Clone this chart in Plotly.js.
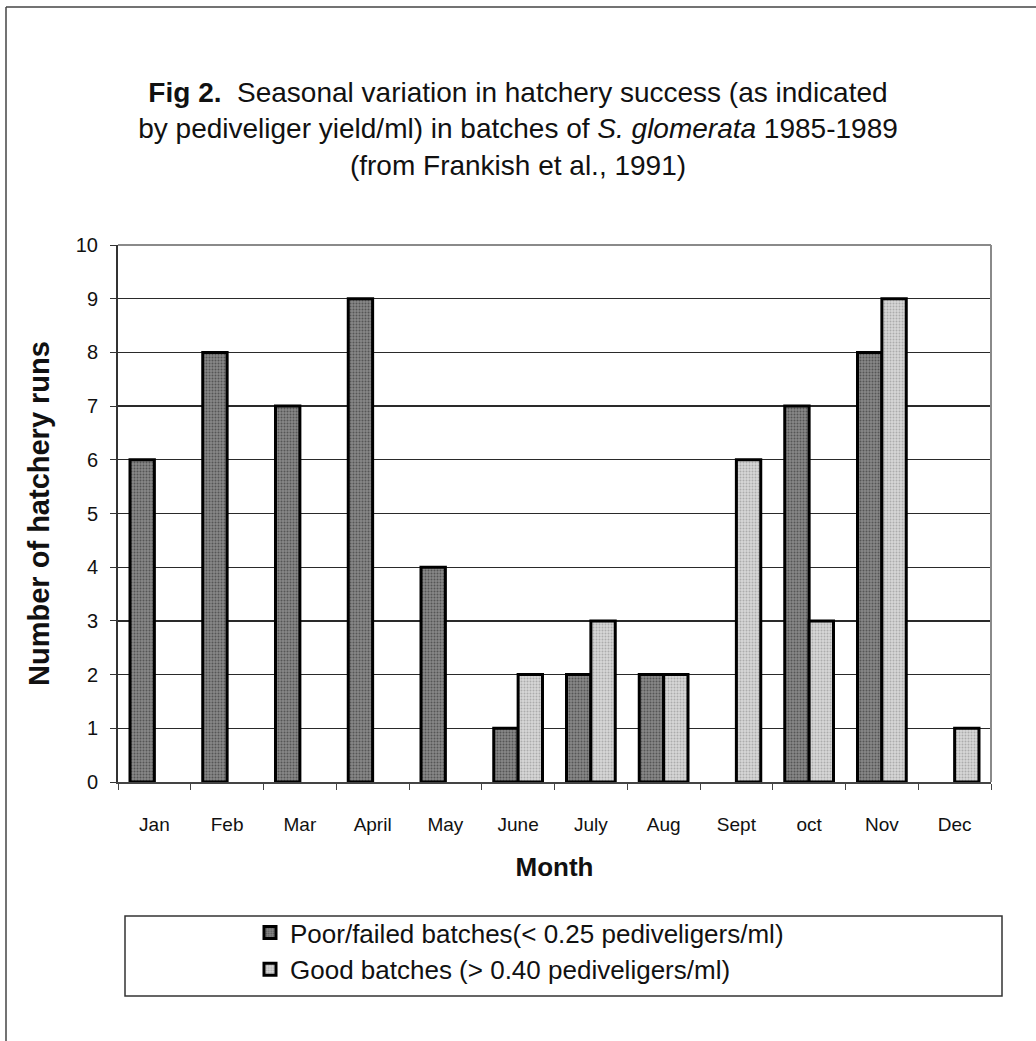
<!DOCTYPE html>
<html>
<head>
<meta charset="utf-8">
<script src="https://cdn.plot.ly/plotly-3.0.1.min.js"></script>
<style>
  html, body { margin: 0; padding: 0; background: #ffffff; }
  #chart { width: 1036px; height: 1041px; }
</style>
</head>
<body>
<div id="chart"></div>
<script>
const months = ["Jan", "Feb", "Mar", "April", "May", "June", "July", "Aug", "Sept", "oct", "Nov", "Dec"];
const poorBatches = [6, 8, 7, 9, 4, 1, 2, 2, null, 7, 8, null];
const goodBatches = [null, null, null, null, null, 2, 3, 2, 6, 3, 9, 1];
const poorName = "Poor/failed batches(< 0.25 pediveligers/ml)";
const goodName = "Good batches (> 0.40 pediveligers/ml)";
const yTicks = [0, 1, 2, 3, 4, 5, 6, 7, 8, 9, 10];

const FONT = "Liberation Sans, Arial, Helvetica, sans-serif";

const traces = [
  {
    type: "bar", name: poorName, x: months, y: poorBatches,
    marker: {
      color: "#7a7a7a",
      line: { color: "#000000", width: 3 },
      pattern: { shape: ".", fgcolor: "#555555", bgcolor: "#888888", size: 3, solidity: 0.35 }
    }
  },
  {
    type: "bar", name: goodName, x: months, y: goodBatches,
    marker: {
      color: "#cccccc",
      line: { color: "#000000", width: 3 },
      pattern: { shape: ".", fgcolor: "#acacac", bgcolor: "#d8d8d8", size: 3, solidity: 0.35 }
    }
  }
];

const L = 118, R = 991, T = 245, B = 782;
const pw = R - L, ph = B - T;
const px = v => (v - L) / pw;
const py = v => (B - v) / ph;

const layout = {
  width: 1036, height: 1041,
  margin: { l: L, r: 1036 - R, t: T, b: 1041 - B, pad: 0 },
  paper_bgcolor: "#ffffff", plot_bgcolor: "#ffffff",
  font: { family: FONT, color: "#111111", size: 16 },
  title: {
    text: "<b>Fig 2.</b>  Seasonal variation in hatchery success (as indicated<br>by pediveliger yield/ml) in batches of <i>S. glomerata</i> 1985-1989<br>(from Frankish et al., 1991)",
    font: { family: FONT, size: 28, color: "#111111" },
    x: 0.5, xanchor: "center", xref: "container",
    y: 1 - 102 / 1041, yanchor: "top", yref: "container"
  },
  barmode: "group",
  bargap: 0.33,
  bargroupgap: 0,
  showlegend: true,
  legend: {
    x: px(250), xanchor: "left",
    y: py(909), yanchor: "top",
    orientation: "v",
    bgcolor: "rgba(0,0,0,0)",
    borderwidth: 0,
    font: { family: FONT, size: 26, color: "#111111" },
    tracegroupgap: 0,
    itemwidth: 30
  },
  xaxis: {
    type: "category",
    categoryorder: "array", categoryarray: months,
    showgrid: false,
    showline: true, linecolor: "#444444", linewidth: 2,
    ticks: "outside", tickson: "boundaries", ticklen: 6, tickcolor: "#444444", tickwidth: 1,
    ticklabelstandoff: 24,
    tickfont: { family: FONT, size: 19, color: "#111111" },
    title: { text: "<b>Month</b>", font: { family: FONT, size: 26, color: "#111111" }, standoff: 24 },
    automargin: false,
    fixedrange: true
  },
  yaxis: {
    range: [0, 10],
    tickvals: yTicks,
    ticktext: yTicks.map(String),
    showgrid: true, gridcolor: "#2a2a2a", gridwidth: 1.3,
    zeroline: false,
    showline: true, linecolor: "#333333", linewidth: 2,
    ticks: "outside", ticklen: 6, tickcolor: "#333333", tickwidth: 1,
    ticklabelstandoff: 8,
    tickfont: { family: FONT, size: 20, color: "#111111" },
    title: { text: "<b>Number of hatchery runs</b>", font: { family: FONT, size: 29, color: "#111111" }, standoff: 18 },
    automargin: false,
    fixedrange: true
  },
  shapes: [
    { type: "line", xref: "paper", yref: "paper", x0: 0, x1: 1, y0: 1, y1: 1, line: { color: "#8a8a8a", width: 2 } },
    { type: "line", xref: "paper", yref: "paper", x0: 1, x1: 1, y0: 0, y1: 1, line: { color: "#8a8a8a", width: 2 } },
    { type: "rect", xref: "paper", yref: "paper", x0: px(125), x1: px(1002), y0: py(996), y1: py(916), line: { color: "#333333", width: 1.5 }, fillcolor: "rgba(0,0,0,0)" },
    { type: "line", xref: "paper", yref: "paper", x0: px(6), x1: px(1040), y0: py(7), y1: py(7), line: { color: "#444444", width: 1.5 } },
    { type: "line", xref: "paper", yref: "paper", x0: px(6), x1: px(6), y0: py(7), y1: py(1045), line: { color: "#444444", width: 1.5 } }
  ]
};

Plotly.newPlot("chart", traces, layout, { displayModeBar: false, staticPlot: true });
</script>
</body>
</html>
